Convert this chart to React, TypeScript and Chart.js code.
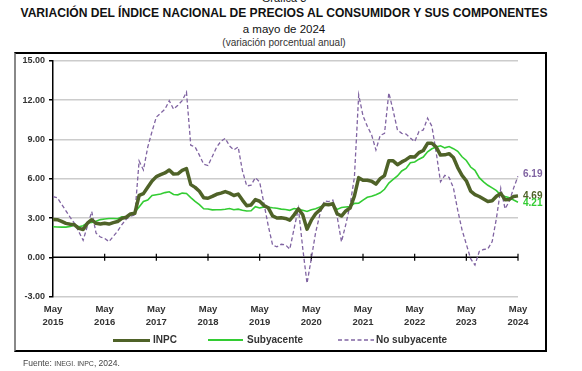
import React, { useEffect, useRef } from 'react';
import { Chart, registerables } from 'chart.js';

Chart.register(...registerables);

// ---------- DATA ----------
const monthNames = ['Ene', 'Feb', 'Mar', 'Abr', 'May', 'Jun', 'Jul', 'Ago', 'Sep', 'Oct', 'Nov', 'Dic'];
const years = ['2015', '2016', '2017', '2018', '2019', '2020', '2021', '2022', '2023', '2024'];
const startMonthIndex = 4; // May 2015
const tickMonth = 'May';

const inpc = [
  2.88, 2.87, 2.74, 2.59, 2.52, 2.48, 2.21, 2.13,
  2.61, 2.87, 2.60, 2.54, 2.60, 2.54, 2.65, 2.73, 2.97, 3.06, 3.31, 3.36,
  4.72, 4.86, 5.35, 5.82, 6.16, 6.31, 6.44, 6.66, 6.35, 6.37, 6.63, 6.77,
  5.55, 5.34, 5.04, 4.55, 4.51, 4.65, 4.81, 4.90, 5.02, 4.90, 4.72, 4.83,
  4.37, 3.94, 4.00, 4.41, 4.28, 3.95, 3.78, 3.16, 3.00, 3.02, 2.97, 2.83,
  3.24, 3.70, 3.25, 2.15, 2.84, 3.33, 3.62, 4.05, 4.01, 4.09, 3.33, 3.15,
  3.54, 3.76, 4.67, 6.08, 5.89, 5.88, 5.81, 5.59, 6.00, 6.24, 7.37, 7.36,
  7.07, 7.28, 7.45, 7.68, 7.65, 7.99, 8.15, 8.70, 8.70, 8.41, 7.80, 7.82,
  7.91, 7.62, 6.85, 6.25, 5.84, 5.06, 4.79, 4.64, 4.45, 4.26, 4.32, 4.66,
  4.88, 4.40, 4.42, 4.65, 4.69,
];

const subyacente = [
  2.33, 2.32, 2.31, 2.31, 2.36, 2.47, 2.34, 2.41,
  2.64, 2.66, 2.76, 2.88, 2.93, 2.97, 2.97, 2.95, 3.10, 3.09, 3.23, 3.44,
  3.85, 4.26, 4.38, 4.72, 4.78, 4.83, 4.94, 5.00, 4.80, 4.77, 4.90, 4.87,
  4.56, 4.27, 4.02, 3.71, 3.69, 3.62, 3.63, 3.63, 3.67, 3.73, 3.63, 3.68,
  3.60, 3.54, 3.55, 3.87, 3.77, 3.85, 3.82, 3.78, 3.75, 3.68, 3.65, 3.59,
  3.73, 3.66, 3.60, 3.50, 3.64, 3.71, 3.85, 3.97, 3.99, 3.98, 3.66, 3.80,
  3.84, 3.87, 4.12, 4.13, 4.37, 4.58, 4.66, 4.78, 4.92, 5.19, 5.67, 5.94,
  6.21, 6.59, 6.78, 7.22, 7.28, 7.49, 7.65, 8.05, 8.28, 8.42, 8.51, 8.35,
  8.45, 8.29, 8.09, 7.67, 7.39, 6.89, 6.64, 6.08, 5.76, 5.50, 5.30, 5.09,
  4.76, 4.64, 4.55, 4.37, 4.21,
];

const noSubyacente = [
  4.63, 4.55, 4.05, 3.55, 3.05, 2.60, 1.95, 1.30,
  2.40, 3.50, 1.85, 1.55, 1.45, 1.20, 1.60, 2.00, 2.50, 2.90, 3.15, 3.22,
  7.35, 6.66, 8.40, 9.60, 10.70, 11.00, 11.30, 11.95, 11.30, 11.60, 11.95, 12.60,
  8.55, 8.42, 7.80, 7.10, 7.00, 7.70, 8.40, 8.85, 9.08, 8.50, 8.20, 8.42,
  6.60, 5.45, 5.50, 6.08, 5.75, 4.10, 2.40, 0.95, 0.80, 1.00, 0.95, 0.63,
  2.20, 3.74, 0.70, -1.98, -0.08, 1.90, 3.30, 4.30, 4.25, 4.37, 3.10, 1.19,
  2.50, 4.00, 6.10, 12.39, 10.80, 10.00, 9.34, 8.19, 9.30, 9.46, 12.55, 11.20,
  9.72, 9.46, 9.40, 9.10, 8.83, 9.60, 9.72, 10.62, 10.00, 8.00, 5.77, 6.25,
  6.10, 5.30, 3.60, 2.10, 1.00, -0.10, -0.59, 0.45, 0.60, 0.65, 1.20, 3.00,
  5.27, 3.70, 4.30, 5.30, 6.19,
];

const yMin = -3;
const yMax = 15;
const yStep = 3;

const seriesNames = ['INPC', 'Subyacente', 'No subyacente'];
const colors = ['#4F6228', '#33CC33', '#8064A2'];

const labels = inpc.map((_, i) => {
  const k = startMonthIndex + i;
  return `${monthNames[k % 12]} ${years[Math.floor(k / 12)]}`;
});

const FONT = '"Liberation Sans", Arial, sans-serif';

const zeroAxisPlugin = {
  id: 'zeroAxis',
  beforeDatasetsDraw(chart: any) {
    const { ctx, chartArea, scales } = chart;
    const xs = scales.x;
    const ys = scales.y;
    const y0 = ys.getPixelForValue(0);
    ctx.save();
    ctx.strokeStyle = '#000';
    ctx.lineWidth = 1.5;
    ctx.beginPath();
    ctx.moveTo(chartArea.left, y0);
    ctx.lineTo(chartArea.right, y0);
    ctx.stroke();
    ctx.lineWidth = 1.2;
    labels.forEach((lab, i) => {
      if (lab.startsWith(tickMonth) && i > 0) {
        const x = xs.getPixelForValue(i);
        ctx.beginPath();
        ctx.moveTo(x, y0 - 3.5);
        ctx.lineTo(x, y0 + 3.5);
        ctx.stroke();
      }
    });
    ctx.restore();
  },
};

const endLabelDy = [0, 1, -2];

const endLabelsPlugin = {
  id: 'endLabels',
  afterDatasetsDraw(chart: any) {
    const { ctx } = chart;
    ctx.save();
    ctx.font = `bold 10px ${FONT}`;
    ctx.textAlign = 'left';
    ctx.textBaseline = 'middle';
    chart.data.datasets.forEach((ds: any, di: number) => {
      const meta = chart.getDatasetMeta(di);
      const last = meta.data[meta.data.length - 1];
      const v = ds.data[ds.data.length - 1];
      ctx.fillStyle = ds.borderColor;
      ctx.fillText(v.toFixed(2), last.x + 5, last.y + endLabelDy[di]);
    });
    ctx.restore();
  },
};

export default function App() {
  const canvasRef = useRef<HTMLCanvasElement | null>(null);

  useEffect(() => {
    const canvas = canvasRef.current;
    if (!canvas) return;
    const chart = new Chart(canvas, {
      type: 'line',
      data: {
        labels,
        datasets: [
          {
            label: seriesNames[0],
            data: inpc,
            borderColor: colors[0],
            backgroundColor: colors[0],
            borderWidth: 3.5,
            pointRadius: 0,
            tension: 0,
            borderJoinStyle: 'round',
          },
          {
            label: seriesNames[1],
            data: subyacente,
            borderColor: colors[1],
            backgroundColor: colors[1],
            borderWidth: 1.6,
            pointRadius: 0,
            tension: 0,
          },
          {
            label: seriesNames[2],
            data: noSubyacente,
            borderColor: colors[2],
            backgroundColor: colors[2],
            borderWidth: 1.3,
            borderDash: [4, 2.5],
            pointRadius: 0,
            tension: 0,
          },
        ],
      },
      options: {
        animation: false,
        responsive: false,
        maintainAspectRatio: false,
        layout: { padding: { left: 0, top: 60.7, right: 64, bottom: 34.3 } },
        plugins: {
          legend: { display: false },
          tooltip: { enabled: false },
          title: { display: false },
        },
        scales: {
          x: {
            type: 'category',
            offset: false,
            grid: { display: false, drawTicks: false, tickLength: 0 },
            border: { display: false },
            afterFit: (scale: any) => {
              scale.height = 40;
            },
            ticks: {
              autoSkip: false,
              maxRotation: 0,
              minRotation: 0,
              padding: 6,
              color: '#333',
              font: { family: FONT, size: 9.5, weight: 'bold', lineHeight: 1.37 },
              callback: (_v: any, i: number) => {
                const lab = labels[i];
                if (lab && lab.startsWith(tickMonth)) {
                  return [tickMonth, lab.split(' ')[1]];
                }
                return null;
              },
            },
          },
          y: {
            min: yMin,
            max: yMax,
            afterFit: (scale: any) => {
              scale.width = 53;
            },
            border: { display: true, color: '#000', width: 1.5 },
            grid: {
              color: (c: any) => (c.tick && c.tick.value === 0 ? 'rgba(0,0,0,0)' : '#CCCCCC'),
              lineWidth: 1.5,
              tickColor: '#000',
              tickLength: 4,
              drawTicks: true,
            },
            ticks: {
              stepSize: yStep,
              padding: 4,
              color: '#333',
              font: { family: FONT, size: 9, weight: 'bold' },
              callback: (v: any) => Number(v).toFixed(2),
            },
          },
        },
      },
      plugins: [zeroAxisPlugin, endLabelsPlugin],
    });
    return () => chart.destroy();
  }, []);

  const text: React.CSSProperties = {
    position: 'absolute',
    left: 0,
    width: 568,
    textAlign: 'center',
    fontFamily: FONT,
    color: '#111',
    lineHeight: 1,
    whiteSpace: 'nowrap',
  };

  return (
    <div
      style={{
        position: 'fixed',
        left: 0,
        top: 0,
        width: 582,
        height: 371,
        overflow: 'hidden',
        background: '#fff',
        fontFamily: FONT,
      }}
    >
      <div style={{ ...text, top: -7.5, fontSize: 11 }}>Gráfica 3</div>
      <div style={{ ...text, top: 6.8, fontSize: 12.1, fontWeight: 'bold' }}>
        VARIACIÓN DEL ÍNDICE NACIONAL DE PRECIOS AL CONSUMIDOR Y SUS COMPONENTES
      </div>
      <div style={{ ...text, top: 23.5, fontSize: 11.5 }}>a mayo de 2024</div>
      <div style={{ ...text, top: 37.5, fontSize: 10, color: '#333' }}>(variación porcentual anual)</div>

      <div
        style={{
          position: 'absolute',
          left: 14,
          top: 52,
          width: 533,
          height: 300,
          boxSizing: 'border-box',
          borderTop: '2px solid #000',
          borderRight: '2px solid #000',
          borderBottom: '2px solid #000',
          borderLeft: '2px solid #888',
        }}
      />

      <canvas
        ref={canvasRef}
        width={582}
        height={371}
        style={{ position: 'absolute', left: 0, top: 0, width: 582, height: 371 }}
      />

      {/* Legend */}
      <div style={{ position: 'absolute', left: 113, top: 338.5, width: 37, height: 3, background: colors[0] }} />
      <div style={{ position: 'absolute', left: 153, top: 334, fontSize: 10, fontWeight: 'bold', color: '#333', lineHeight: '12px' }}>
        {seriesNames[0]}
      </div>
      <div style={{ position: 'absolute', left: 208, top: 339, width: 35, height: 1.6, background: colors[1] }} />
      <div style={{ position: 'absolute', left: 247, top: 334, fontSize: 10, fontWeight: 'bold', color: '#333', lineHeight: '12px' }}>
        {seriesNames[1]}
      </div>
      <svg style={{ position: 'absolute', left: 338, top: 336 }} width={36} height={8}>
        <line x1={0} y1={4} x2={36} y2={4} stroke={colors[2]} strokeWidth={1.3} strokeDasharray="4 2.5" />
      </svg>
      <div style={{ position: 'absolute', left: 376, top: 334, fontSize: 10, fontWeight: 'bold', color: '#333', lineHeight: '12px' }}>
        {seriesNames[2]}
      </div>

      {/* Footer */}
      <div style={{ position: 'absolute', left: 23, top: 358, fontSize: 8.5, color: '#444', lineHeight: '10px', whiteSpace: 'nowrap' }}>
        Fuente: <span style={{ fontSize: 7 }}>INEGI. INPC</span>, 2024.
      </div>
    </div>
  );
}
